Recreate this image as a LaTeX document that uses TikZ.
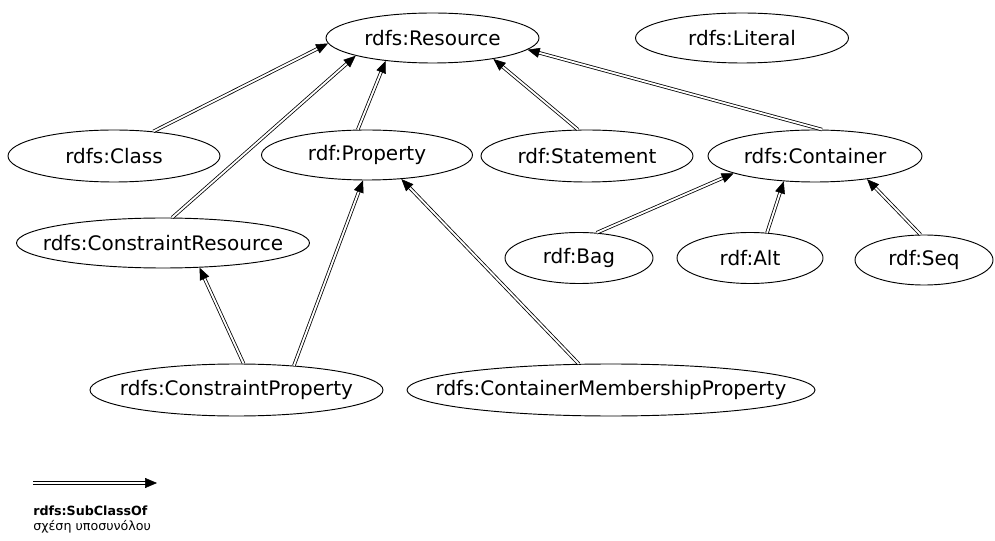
\documentclass[tikz,border=0pt]{standalone}
\usepackage{fontspec}
\setmainfont{DejaVu Sans}
\usetikzlibrary{shapes.geometric,arrows.meta,decorations.markings}

% one drawing unit
\def\pxu{0.75pt}
% zero-width box so the ellipse size is fixed by minimum width/height alone
\newcommand\nameinside[1]{\makebox[0pt]{#1}}

\tikzset{
  cls/.style={ellipse, draw, line width=0.7pt, inner sep=0pt,
    font=\fontsize{15pt}{18pt}\selectfont},
  size/.style n args={2}{minimum width=#1*\pxu, minimum height=#2*\pxu},
  shaft/.style={draw, line width=0.6pt, double, double distance=1.4pt, shorten >=7pt},
  tiphead/.style={decorate, decoration={markings,
    mark=at position 1 with {\arrow{Triangle[length=9pt,width=7.5pt]}}}},
  legendtext/.style={anchor=west, inner sep=0pt, font=\fontsize{9.5pt}{11pt}\selectfont}
}
% subclass relation: double shaft ending in a filled triangle
\newcommand\subclassarrow[2]{%
  \path[shaft] (#1) -- (#2);
  \path[tiphead] (#1) -- (#2);}

\begin{document}
\begin{tikzpicture}[x=0.75pt, y=-0.75pt]
\useasboundingbox (0,0) rectangle (995,541);

% classes
\node[cls, size={213}{50}] (res)  at (432.5,38) {\nameinside{rdfs:Resource}};
\node[cls, size={213}{50}] (lit)  at (742,38)   {\nameinside{rdfs:Literal}};
\node[cls, size={212}{52}] (cls)  at (114,156)  {\nameinside{rdfs:Class}};
\node[cls, size={211}{50}] (prop) at (367,155)  {\nameinside{rdf:Property}};
\node[cls, size={212}{52}] (stm)  at (587,156)  {\nameinside{rdf:Statement}};
\node[cls, size={214}{52}] (cont) at (815,156)  {\nameinside{rdfs:Container}};
\node[cls, size={293}{50}] (cres) at (163,243)  {\nameinside{rdfs:ConstraintResource}};
\node[cls, size={148}{51}] (bag)  at (579,258)  {\nameinside{rdf:Bag}};
\node[cls, size={146}{51}] (alt)  at (750,258)  {\nameinside{rdf:Alt}};
\node[cls, size={138}{50}] (seq)  at (924,260)  {\nameinside{rdf:Seq}};
\node[cls, size={293}{52}] (cprop) at (236.5,390) {\nameinside{rdfs:ConstraintProperty}};
\node[cls, size={408}{52}] (cmp)  at (611,390)  {\nameinside{rdfs:ContainerMembershipProperty}};

% subclass relations
\subclassarrow{cls.32.4}{res.183.8}
\subclassarrow{cres.70.2}{res.193}
\subclassarrow{prop.110}{res.206.8}
\subclassarrow{stm.109}{res.341.7}
\subclassarrow{cont.75.5}{res.353.7}
\subclassarrow{bag.55.3}{cont.192.7}
\subclassarrow{alt.56.8}{cont.219}
\subclassarrow{seq.98.7}{cont.336.6}
\subclassarrow{cprop.75.4}{cres.326}
\subclassarrow{cprop.23.9}{prop.261}
\subclassarrow{cmp.141.8}{prop.325}

% legend
\coordinate (lgA) at (33,483);
\coordinate (lgB) at (157,483);
\subclassarrow{lgA}{lgB}
\node[legendtext, font=\fontsize{9.5pt}{11pt}\selectfont\bfseries] (lg1) at (33,511) {rdfs:SubClassOf};
\node[legendtext] (lg2) at (33,527) {σχέση υποσυνόλου};
\end{tikzpicture}
\end{document}
